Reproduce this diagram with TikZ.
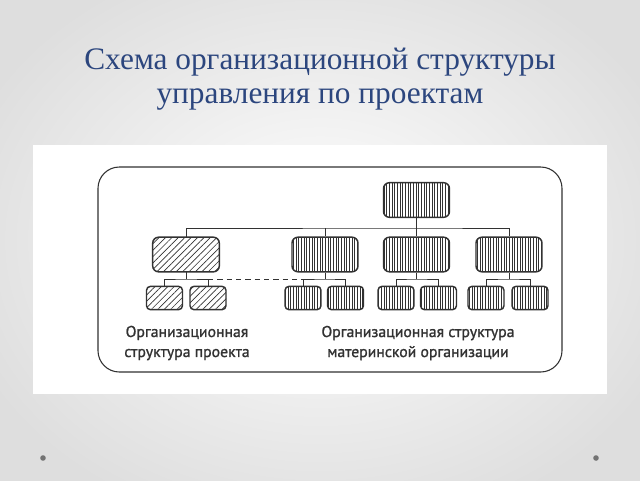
\documentclass[tikz,border=0pt]{standalone}
\usepackage{fontspec}
\setmainfont{Liberation Serif}
\newfontfamily\lblfont[AutoFakeBold=1.2]{PT Sans}
\usetikzlibrary{patterns.meta}
\definecolor{titleblue}{RGB}{44,70,126}
\definecolor{ink}{RGB}{50,50,50}
\tikzset{
  orgbox/.style={draw=ink, line width=1.1pt, inner sep=0pt},
  bigv/.style={orgbox, rounded corners=4.5pt, minimum width=49.5pt, minimum height=26pt,
    pattern={Lines[angle=90,distance=2pt,line width=0.55pt]}, pattern color=ink},
  bigd/.style={orgbox, rounded corners=4.5pt, minimum width=50pt, minimum height=26pt,
    pattern={Lines[angle=45,distance=3.4pt,line width=0.5pt]}, pattern color=ink},
  smallv/.style={orgbox, rounded corners=3pt, minimum width=27pt, minimum height=17.5pt,
    pattern={Lines[angle=90,distance=2pt,line width=0.55pt]}, pattern color=ink},
  smalld/.style={orgbox, rounded corners=3pt, minimum width=27pt, minimum height=17.5pt,
    pattern={Lines[angle=45,distance=3.4pt,line width=0.5pt]}, pattern color=ink},
  conn/.style={draw=ink, line width=0.7pt},
  lbl/.style={font=\lblfont\bfseries\fontsize{11.8pt}{15pt}\selectfont, text=ink, align=center},
  titlestyle/.style={font=\fontsize{23.5pt}{25.5pt}\selectfont, text=titleblue, align=center}
}
\begin{document}
\begin{tikzpicture}[x=0.75pt,y=-0.75pt]
\useasboundingbox (0,0) rectangle (640,480);
\shade[inner color=white, outer color=black!13] (-60,-60) rectangle (700,540);
\node[titlestyle] (title) at (320,79) {Схема организационной структуры\\управления по проектам};
\fill[white] (33,145) rectangle (607,394);
\draw[ink, line width=0.8pt, rounded corners=16pt] (98,167) rectangle (562,372);
% boxes
\node[bigv] (top) at (416.5,200) {};
\node[bigd] (p) at (186,254.5) {};
\node[bigv] (m1) at (325,254.5) {};
\node[bigv] (m2) at (416.5,254.5) {};
\node[bigv] (m3) at (509,254.5) {};
\node[smalld] (p1) at (164.5,298) {};
\node[smalld] (p2) at (208,298) {};
\node[smallv] (a1) at (303,298) {};
\node[smallv] (a2) at (345.5,298) {};
\node[smallv] (b1) at (396,298) {};
\node[smallv] (b2) at (438.5,298) {};
\node[smallv] (c1) at (486,298) {};
\node[smallv] (c2) at (530,298) {};
\coordinate (bus) at (416.5,228);
\coordinate (pj) at (186,279);
\coordinate (aj) at (325,279);
\coordinate (bj) at (416.5,279);
\coordinate (cj) at (509,279);
% connectors
\draw[conn] (top.south) -- (bus);
\draw[conn] (p.north) |- (bus) -| (m3.north);
\draw[conn] (m1.north) -- (m1.north |- bus);
\draw[conn] (m2.north) -- (bus);
\draw[conn] (p.south) -- (pj);
\draw[conn] (p1.north) |- (pj) -| (p2.north);
\draw[conn] (m1.south) -- (aj);
\draw[conn] (a1.north) |- (aj) -| (a2.north);
\draw[conn] (m2.south) -- (bj);
\draw[conn] (b1.north) |- (bj) -| (b2.north);
\draw[conn] (m3.south) -- (cj);
\draw[conn] (c1.north) |- (cj) -| (c2.north);
\draw[conn, dashed, dash pattern=on 4pt off 3pt] (p2.north |- pj) -- (a1.north |- aj);
% labels
\node[lbl] (lp) at (187,343) {Организационная\\структура проекта};
\node[lbl] (lm) at (418,343) {Организационная структура\\материнской организации};
% bullets
\fill[black!55] (43,458) circle (2.8);
\fill[black!55] (596,458) circle (2.8);
\end{tikzpicture}
\end{document}
